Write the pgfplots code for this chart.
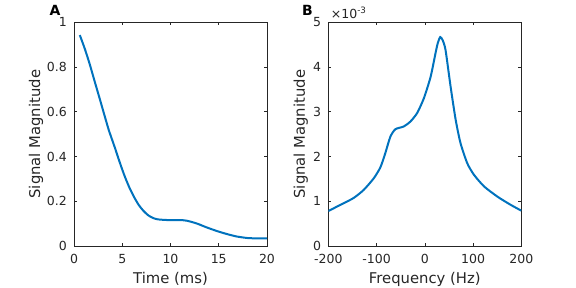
\documentclass[border=0pt]{standalone}
\usepackage{pgfplots}
\pgfplotsset{compat=1.18}
\usepackage{fontspec}
\setmainfont{DejaVu Sans}
\definecolor{axgray}{rgb}{0.15,0.15,0.15}
\definecolor{mblue}{rgb}{0,0.447,0.741}
\newcommand{\tickfont}{\fontsize{12.5bp}{14bp}\selectfont}
\newcommand{\labfont}{\fontsize{14.8bp}{17bp}\selectfont}
\pgfplotsset{
  mstyle/.style={
    scale only axis,
    width=193bp, height=223.7bp,
    axis line style={axgray, line width=0.6bp},
    tick style={axgray, line width=0.6bp},
    tick align=inside,
    xtick pos=both, ytick pos=both,
    major tick length=3bp,
    /pgf/number format/assume math mode=true,
    tick label style={font=\tickfont, text=axgray, inner sep=0pt},
    xticklabel style={anchor=north, yshift=-8bp},
    yticklabel style={anchor=east, xshift=-7bp},
    label style={font=\labfont, text=axgray},
    xlabel style={at={(axis description cs:0.5,-0.148)}, anchor=center},
  },
  mline/.style={color=mblue, line width=2bp, no markers, smooth, tension=0.4},
}
\begin{document}
\begin{tikzpicture}
\useasboundingbox (0,0) rectangle (576bp,288bp);
\begin{axis}[mstyle,
  at={(74bp,42bp)}, anchor=south west,
  xmin=0, xmax=20, ymin=0, ymax=1,
  xtick={0,5,10,15,20},
  ytick={0,0.2,0.4,0.6,0.8,1},
  yticklabels={0,0.2,0.4,0.6,0.8,1},
  xlabel={Time (ms)},
  ylabel={Signal Magnitude},
  ylabel style={at={(axis description cs:-0.197,0.5)}, anchor=center, rotate=0},
]
\addplot[mline] coordinates {
(0.6,0.943) (1.1,0.884) (1.6,0.817) (2.1,0.742) (2.6,0.668) (3.1,0.593)
(3.6,0.519) (4.2,0.444) (4.7,0.379) (5.2,0.318) (5.7,0.265) (6.2,0.221)
(6.7,0.184) (7.2,0.157) (7.7,0.137) (8.2,0.125) (8.7,0.119) (9.7,0.116)
(11.0,0.116) (11.7,0.113) (12.7,0.101) (13.7,0.084) (14.8,0.067)
(15.8,0.054) (16.8,0.043) (17.9,0.036) (18.9,0.034) (20,0.034)
};
\end{axis}
\node[font=\fontsize{14bp}{16bp}\selectfont\bfseries, text=black, inner sep=0pt] at (55bp,277.5bp) {A};
\begin{axis}[mstyle,
  at={(328.3bp,42bp)}, anchor=south west,
  xmin=-200, xmax=200, ymin=0, ymax=5,
  xtick={-200,-100,0,100,200},
  ytick={0,1,2,3,4,5},
  xlabel={Frequency (Hz)},
  ylabel={Signal Magnitude},
  ylabel style={at={(axis description cs:-0.142,0.5)}, anchor=center, rotate=0},
]
% values in units of 10^-3
\addplot[mline] coordinates {
(-200,0.78) (-175,0.92) (-148,1.07) (-127,1.25) (-106,1.51) (-92,1.76)
(-82,2.07) (-71.5,2.44) (-61,2.61) (-44,2.67) (-30,2.78) (-16,2.97)
(-2,3.30) (12,3.78) (22,4.30) (27,4.54) (32,4.67) (37,4.60) (43,4.38)
(53.5,3.56) (64,2.82) (74,2.30) (88,1.85) (102,1.59) (123,1.33)
(151,1.10) (178,0.92) (200,0.79)
};
\end{axis}
\node[anchor=base west, inner sep=0pt, font=\tickfont, text=axgray] at (330.7bp,269.7bp) {×10\textsuperscript{-3}};
\node[font=\fontsize{14bp}{16bp}\selectfont\bfseries, text=black, inner sep=0pt] at (307.5bp,277.5bp) {B};
\end{tikzpicture}
\end{document}
